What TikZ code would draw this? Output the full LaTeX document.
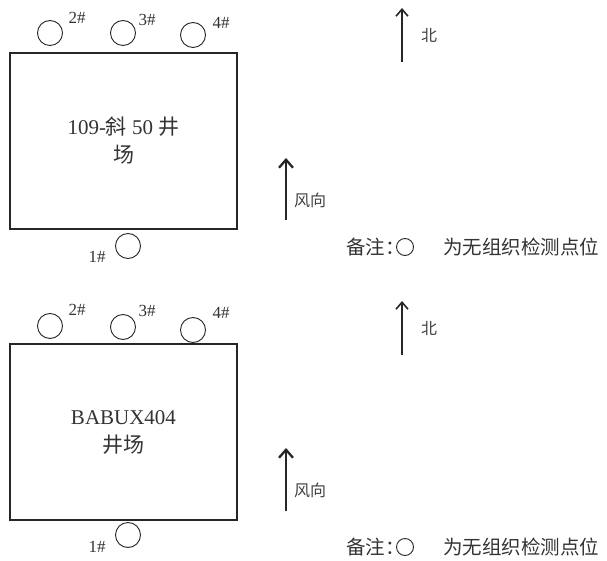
\documentclass[tikz,border=0pt]{standalone}
\usepackage{fontspec}
\setmainfont{Liberation Serif}
\newfontfamily\cjk[RawFeature=+halt]{Noto Sans CJK SC}
\usetikzlibrary{arrows.meta}
\begin{document}
\begin{tikzpicture}[x=1pt,y=-1pt,
  ink/.style={draw=black!85},
  sitebox/.style={ink, line width=1.3pt, minimum width=227pt, minimum height=176pt, align=center, inner sep=0pt, text=black!80, font=\fontsize{21}{28}\selectfont},
  ptc/.style={ink, circle, line width=0.9pt, minimum size=25pt, inner sep=0pt},
  smallc/.style={ink, circle, line width=0.9pt, minimum size=17pt, inner sep=0pt},
  lbl/.style={inner sep=0pt, text=black!80, font=\fontsize{17}{19}\selectfont},
  cjklbl/.style={inner sep=0pt, text=black!75, font=\cjk\fontsize{16}{18}\selectfont},
  notetxt/.style={inner sep=0pt, text=black!80, font=\cjk\fontsize{19.5}{22}\selectfont},
  northarrow/.style={ink, line width=1.6pt, -{Straight Barb[length=7pt,width=12pt,line width=1.6pt]}},
  windarrow/.style={ink, line width=2.3pt, -{Straight Barb[length=8pt,width=14pt,line width=2.3pt]}}
]
\useasboundingbox (0,0) rectangle (607,561);

% ---------- upper site ----------
\node[sitebox] (siteA) at (123.5,141) {109-{\cjk 斜} 50 {\cjk 井}\\{\cjk 场}};
\node[ptc] (p2a) at (50,33) {};
\node[ptc] (p3a) at (123,33) {};
\node[ptc] (p4a) at (193,35) {};
\node[ptc] (p1a) at (128,246) {};
\node[lbl] (l2a) at (77,18) {2\#};
\node[lbl] (l3a) at (147,20) {3\#};
\node[lbl] (l4a) at (221,23) {4\#};
\node[lbl] (l1a) at (97,257) {1\#};

\coordinate (nAs) at (402,62);
\coordinate (nAe) at (402,8);
\draw[northarrow] (nAs) -- (nAe);
\node[cjklbl] (beiA) at (429,35) {北};

\coordinate (wAs) at (286,220);
\coordinate (wAe) at (286,158);
\draw[windarrow] (wAs) -- (wAe);
\node[cjklbl] (fxA) at (310,200) {风向};

\node[notetxt, anchor=east] (bzA) at (395,247) {备注：};
\node[smallc] (ncA) at (405,247) {};
\node[notetxt, anchor=west] (ntA) at (443,247) {为无组织检测点位};

% ---------- lower site ----------
\node[sitebox] (siteB) at (123.5,432) {BABUX404\\{\cjk 井场}};
\node[ptc] (p2b) at (50,326) {};
\node[ptc] (p3b) at (123,327) {};
\node[ptc] (p4b) at (193,330) {};
\node[ptc] (p1b) at (128,535) {};
\node[lbl] (l2b) at (77,310) {2\#};
\node[lbl] (l3b) at (147,311) {3\#};
\node[lbl] (l4b) at (221,313) {4\#};
\node[lbl] (l1b) at (97,547) {1\#};

\coordinate (nBs) at (402,355);
\coordinate (nBe) at (402,301);
\draw[northarrow] (nBs) -- (nBe);
\node[cjklbl] (beiB) at (429,328) {北};

\coordinate (wBs) at (286,511);
\coordinate (wBe) at (286,448);
\draw[windarrow] (wBs) -- (wBe);
\node[cjklbl] (fxB) at (310,490) {风向};

\node[notetxt, anchor=east] (bzB) at (395,547) {备注：};
\node[smallc] (ncB) at (405,547) {};
\node[notetxt, anchor=west] (ntB) at (443,547) {为无组织检测点位};
\end{tikzpicture}
\end{document}
